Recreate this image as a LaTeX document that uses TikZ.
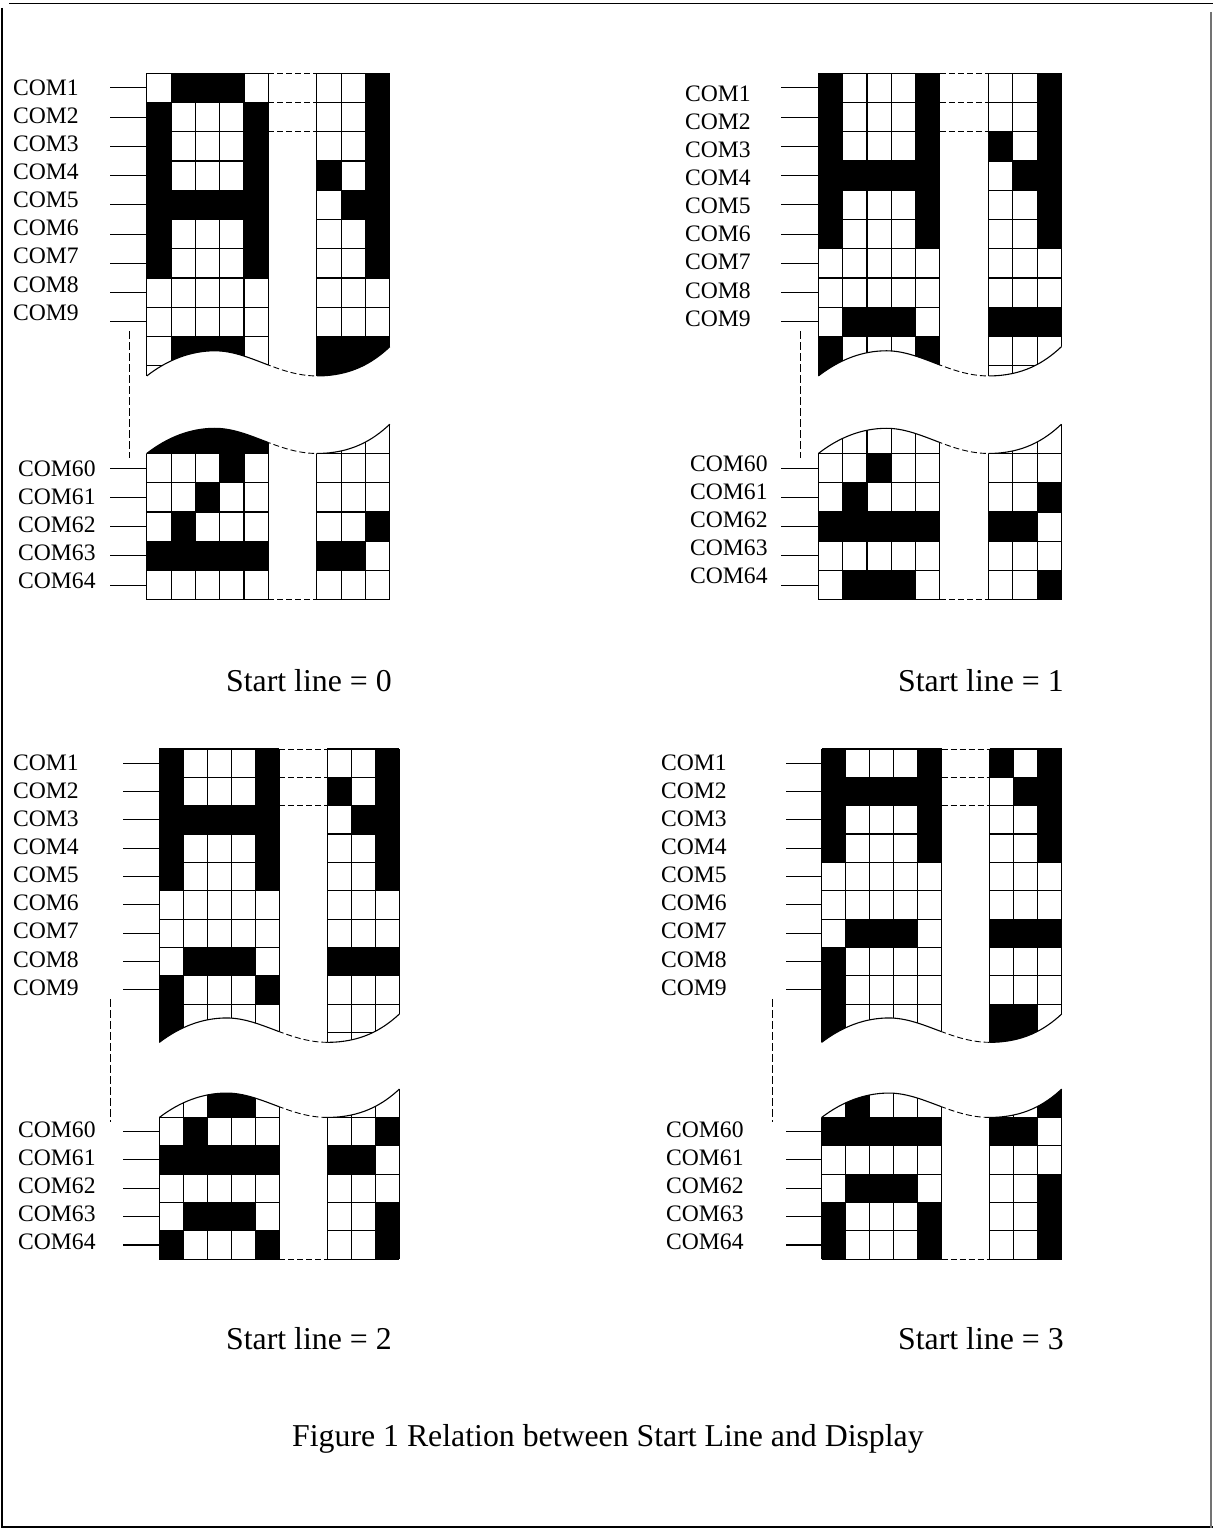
\documentclass[tikz,border=0pt]{standalone}
\usepackage{fontspec}
\setmainfont{Liberation Serif}
\usepackage{tikz}
\tikzset{
  gridln/.style={line width=1.1pt,draw=black},
  dashln/.style={line width=0.9pt,draw=black,dash pattern=on 6pt off 3pt},
  vdashln/.style={line width=0.9pt,draw=black,dash pattern=on 8pt off 3pt},
  frameln/.style={line width=1.3pt,draw=black},
  comlbl/.style={anchor=base west,inner sep=0pt,font=\fontsize{23.6}{26}\selectfont},
  capt/.style={anchor=base west,inner sep=0pt,font=\fontsize{31.8}{36}\selectfont},
}
\newcommand{\wavetail}[1]{.. controls (.85,#1-.55) and (1.8,#1-.86) .. (2.8,#1-.86) .. controls (4.2,#1-.86) and (5.4,#1) .. (7,#1) .. controls (8.4,#1) and (9.3,#1-.45) .. (10,#1-1)}
\newcommand{\lcdpanel}[7]{%
  \begin{scope}[shift={(#1,#2)},x=#3pt,y=-#4pt]
    \begin{scope}
      \clip (-.1,10.35) -- (0,10.35) \wavetail{10.35} -- (10.1,9.35) -- (10.1,-.1) -- (-.1,-.1) -- cycle
        (-.1,18.1) -- (-.1,13) -- (0,13) \wavetail{13} -- (10.1,12) -- (10.1,18.1) -- cycle;
      \foreach \r/\cs in {#7} \foreach \c in \cs \fill[black] (\c,\r) rectangle (\c+1,\r+1);
      \foreach \c in {0,1,2,3,4,5,7,8,9,10} \draw[gridln] (\c,0)--(\c,18);
      \foreach \r in {0,1,2,3,4,5,6,7,8,9,10,13,14,15,16,17,18} {
        \draw[gridln] (0,\r)--(5,\r);
        \draw[gridln] (7,\r)--(10,\r);
      }
    \end{scope}
    \begin{scope}
      \clip (-.5,8) rectangle (5,14.5) (7,8) rectangle (10.5,14.5);
      \draw[gridln] (0,10.35) \wavetail{10.35};
      \draw[gridln] (0,13) \wavetail{13};
    \end{scope}
    \begin{scope}
      \clip (5,8) rectangle (7,14.5);
      \draw[dashln] (0,10.35) \wavetail{10.35};
      \draw[dashln] (0,13) \wavetail{13};
    \end{scope}
    \foreach \r in {0,1,2,18} \draw[dashln] (5,\r)--(7,\r);
    \foreach \r in {0,1,2,3,4,5,6,7,8,13,14,15,16,17} \draw[gridln] (0,\r+.5) -- ++(-#5pt,0);
    \draw[vdashln] (-#6pt,8.82)--(-#6pt,13.16);
  \end{scope}%
}
\newcommand{\comlabels}[5]{%
  \foreach \n [count=\i from 0] in {1,2,3,4,5,6,7,8,9}
    \node[comlbl] (#1com\n) at (#2,#3+\i*28.15) {COM\n};
  \foreach \n [count=\i from 0] in {60,61,62,63,64}
    \node[comlbl] (#1com\n) at (#4,#5+\i*28.15) {COM\n};
}
\begin{document}
\begin{tikzpicture}[x=1pt,y=-1pt]
  \useasboundingbox (0,0) rectangle (1213,1528);
  \draw[frameln] (9,3.5)--(1213,3.5);
  \draw[frameln] (2,8)--(2,1528);
  \draw[frameln] (2,1527)--(1213,1527);
  \draw[line width=2pt,draw=black!55] (1210.5,12)--(1210.5,1528);

  \lcdpanel{146.8}{73.2}{24.3}{29.25}{37}{17.7}{0/{1,2,3,9},1/{0,4,9},2/{0,4,9},3/{0,4,7,9},4/{0,1,2,3,4,8,9},5/{0,4,9},6/{0,4,9},9/{1,2,3,7,8,9},10/{7,8},12/{0,1,2,3,4},13/{3},14/{2},15/{1,9},16/{0,1,2,3,4,7,8}}
  \lcdpanel{818.4}{73.2}{24.3}{29.25}{37}{18}{0/{0,4,9},1/{0,4,9},2/{0,4,7,9},3/{0,1,2,3,4,8,9},4/{0,4,9},5/{0,4,9},8/{1,2,3,7,8,9},9/{0,4},10/{0},13/{2},14/{1,9},15/{0,1,2,3,4,7,8},17/{1,2,3,9}}
  \lcdpanel{159.4}{749}{24}{28.34}{36}{49}{0/{0,4,9},1/{0,4,7,9},2/{0,1,2,3,4,8,9},3/{0,4,9},4/{0,4,9},7/{1,2,3,7,8,9},8/{0,4},9/{0},10/{0},12/{2,3},13/{1,9},14/{0,1,2,3,4,7,8},16/{1,2,3,9},17/{0,4,9}}
  \lcdpanel{821.7}{749}{24}{28.34}{36}{49.4}{0/{0,4,7,9},1/{0,1,2,3,4,8,9},2/{0,4,9},3/{0,4,9},6/{1,2,3,7,8,9},7/{0},8/{0},9/{0,7,8},10/{0,7,8},12/{1,9},13/{0,1,2,3,4,7,8},15/{1,2,3,9},16/{0,4,9},17/{0,4,9}}

  \comlabels{pa}{13}{95}{18}{476}
  \comlabels{pb}{685}{101}{690}{471}
  \comlabels{pc}{13}{770}{18}{1137}
  \comlabels{pd}{661}{770}{666}{1137}

  \node[capt] (starta) at (226,691) {Start line = 0};
  \node[capt] (startb) at (898,691) {Start line = 1};
  \node[capt] (startc) at (226,1349) {Start line = 2};
  \node[capt] (startd) at (898,1349) {Start line = 3};
  \node[capt] (figcap) at (292,1446) {Figure 1 Relation between Start Line and Display};
\end{tikzpicture}
\end{document}
